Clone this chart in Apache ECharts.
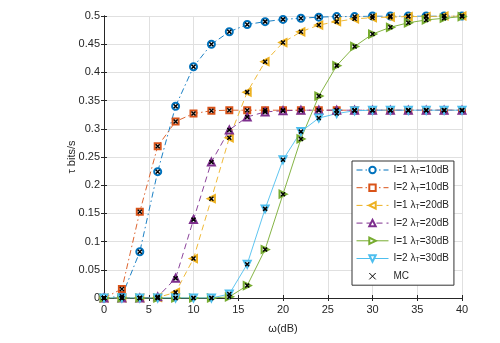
<!DOCTYPE html>
<html><head><meta charset="utf-8">
<script src="https://cdn.jsdelivr.net/npm/echarts@6/dist/echarts.min.js"></script>
<style>html,body{margin:0;padding:0;background:#fff}#c{width:500px;height:343px}</style>
</head><body><div id="c"></div>
<script>
var omega = [0,2,4,6,8,10,12,14,16,18,20,22,24,26,28,30,32,34,36,38,40];
var s1 = [0,0.003,0.082,0.224,0.340,0.410,0.450,0.472,0.485,0.490,0.494,0.496,0.498,0.499,0.499,0.500,0.500,0.500,0.500,0.500,0.500];
var s2 = [0,0.016,0.153,0.269,0.313,0.327,0.332,0.333,0.333,0.333,0.333,0.333,0.333,0.333,0.333,0.333,0.333,0.333,0.333,0.333,0.333];
var s3 = [0,0,0,0.001,0.010,0.070,0.176,0.284,0.365,0.419,0.453,0.472,0.484,0.490,0.495,0.497,0.498,0.499,0.499,0.500,0.500];
var s4 = [0,0,0,0.002,0.035,0.139,0.241,0.298,0.321,0.330,0.332,0.333,0.333,0.333,0.333,0.333,0.333,0.333,0.333,0.333,0.333];
var s5 = [0,0,0,0,0,0,0,0.002,0.022,0.086,0.184,0.282,0.358,0.412,0.446,0.468,0.480,0.488,0.493,0.496,0.499];
var s6 = [0,0,0,0,0,0,0,0.007,0.060,0.158,0.245,0.295,0.319,0.327,0.332,0.333,0.333,0.333,0.333,0.333,0.333];
var names = ['I=1 λ_T=10dB','I=2 λ_T=10dB','I=1 λ_T=20dB','I=2 λ_T=20dB','I=1 λ_T=30dB','I=2 λ_T=30dB'];
var mcName = 'MC';
var yTicks = ['0','0.05','0.1','0.15','0.2','0.25','0.3','0.35','0.4','0.45','0.5'];

var allData = [s1,s2,s3,s4,s5,s6];
var colors = ['#0072BD','#D95319','#EDB120','#7E2F8E','#77AC30','#4DBEEE'];
var symbols = ['emptyCircle','emptyRect','emptyTriangle','emptyTriangle','emptyTriangle','emptyTriangle'];
var rotates = [0,0,90,0,-90,180];
var dashes = [[6,3,1.5,3],[6,3,1.5,3],[6,4],[6,4],'solid','solid'];
var xPath = 'path://M0,0L10,10M10,0L0,10';

function pairs(d){ return omega.map(function(x,i){ return [x,d[i]]; }); }

var series = [];
allData.forEach(function(d,k){
  series.push({
    name: names[k], type:'line', data: pairs(d), xAxisIndex:0, yAxisIndex:0,
    symbol: symbols[k], symbolRotate: rotates[k], symbolSize: k===1?6:7,
    showAllSymbol:true,
    lineStyle:{color:colors[k], width:0.9, type:dashes[k]},
    itemStyle:{color:colors[k], borderColor:colors[k], borderWidth:1.1},
    emphasis:{disabled:true}, z:2, animation:false
  });
});
allData.forEach(function(d,k){
  series.push({
    name: mcName, type:'line', data: pairs(d), xAxisIndex:0, yAxisIndex:0,
    symbol: xPath, symbolSize: 4, showAllSymbol:true,
    lineStyle:{width:0, opacity:0, color:'#000'},
    itemStyle:{color:'#000', borderColor:'#000', borderWidth:1.5},
    emphasis:{disabled:true}, z:5, animation:false
  });
});

var axisColor = '#262626';
var chart = echarts.init(document.getElementById('c'));
chart.setOption({
  backgroundColor:'#fff',
  animation:false,
  grid:{left:104, right:38, top:16, bottom:45},
  xAxis:[{
    type:'value', min:0, max:40, interval:5,
    name:'ω(dB)', nameLocation:'middle', nameGap:25, nameMoveOverlap:false,
    nameTextStyle:{fontFamily:'Liberation Sans', fontSize:11, color:axisColor},
    axisLine:{lineStyle:{color:axisColor, width:1}},
    axisTick:{inside:true, length:3, lineStyle:{color:axisColor}},
    axisLabel:{fontFamily:'Liberation Sans', fontSize:11, color:axisColor, margin:6},
    splitLine:{show:true, lineStyle:{color:'#e0e0e0', width:1}}
  },{
    type:'value', min:0, max:40, interval:5, position:'top',
    axisLine:{show:true, lineStyle:{color:axisColor, width:1}},
    axisTick:{show:true, inside:true, length:3, lineStyle:{color:axisColor}},
    axisLabel:{show:false}, splitLine:{show:false}
  }],
  yAxis:[{
    type:'value', min:0, max:0.5, interval:0.05,
    name:'τ bits/s', nameLocation:'middle', nameGap:27, nameRotate:90, nameMoveOverlap:false,
    nameTextStyle:{fontFamily:'Liberation Sans', fontSize:11, color:axisColor},
    axisLine:{show:true, lineStyle:{color:axisColor, width:1}},
    axisTick:{show:true, inside:true, length:3, lineStyle:{color:axisColor}},
    axisLabel:{fontFamily:'Liberation Sans', fontSize:11, color:axisColor, margin:4,
      formatter:function(v){ var i=Math.round(v/0.05); return yTicks[i]; }},
    splitLine:{show:true, lineStyle:{color:'#e0e0e0', width:1}}
  },{
    type:'value', min:0, max:0.5, interval:0.05, position:'right',
    axisLine:{show:true, lineStyle:{color:axisColor, width:1}},
    axisTick:{show:true, inside:true, length:3, lineStyle:{color:axisColor}},
    axisLabel:{show:false}, splitLine:{show:false}
  }],
  legend:{
    orient:'vertical', left:352, top:161,
    data: names.concat([mcName]),
    backgroundColor:'#fff', borderColor:'#333', borderWidth:1,
    padding:[4,5,4,4], itemWidth:32, itemHeight:8, itemGap:7.2, itemTextGap:3,
    selectedMode:false,
    lineStyle:{width:1},
    itemStyle:{borderWidth:1},
    textStyle:{fontFamily:'Liberation Sans', fontSize:10, color:axisColor,
      rich:{s:{fontFamily:'Liberation Sans', fontSize:7, color:axisColor, verticalAlign:'bottom', padding:[4,0,0,0]}}},
    formatter:function(n){
      if(n===mcName) return n;
      return n.replace('λ_T','λ{s|T}');
    }
  },
  series: series
});
</script>
</body></html>
